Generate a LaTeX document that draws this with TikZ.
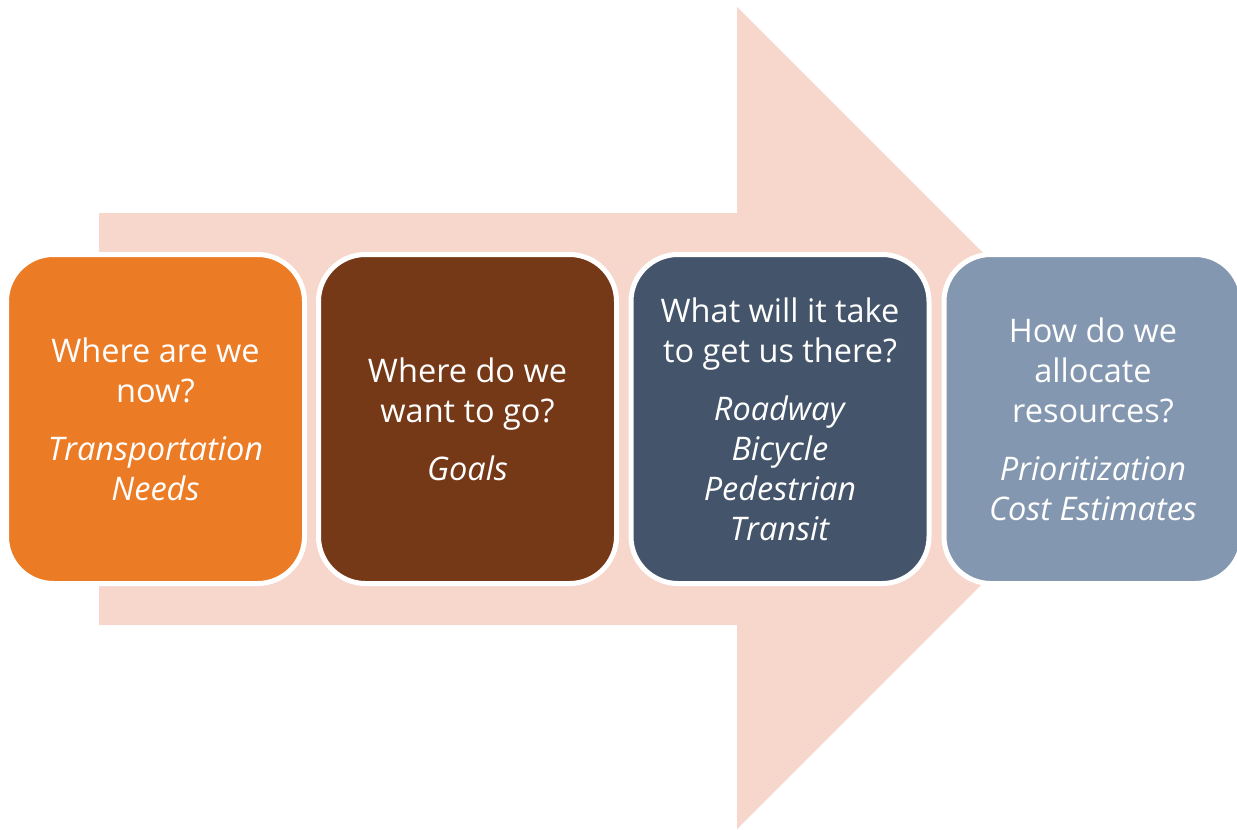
\documentclass[tikz,border=0pt]{standalone}
\usepackage{fontspec}
\setmainfont{Open Sans}
\definecolor{arrowfill}{HTML}{F7D6CC}
\definecolor{boxA}{HTML}{EC7B25}
\definecolor{boxB}{HTML}{763918}
\definecolor{boxC}{HTML}{44546A}
\definecolor{boxD}{HTML}{8497B0}
\tikzset{
  stepbox/.style={rectangle, rounded corners=47pt, draw=white, line width=5pt,
    minimum width=298pt, minimum height=329pt, inner sep=0pt, text=white,
    align=center, font=\fontsize{32.5}{40}\selectfont},
}
\begin{document}
\begin{tikzpicture}[x=1pt,y=-1pt]
\useasboundingbox (0,0) rectangle (1237,830);
\fill[arrowfill] (99,213) -- (737,213) -- (737,7) -- (1148,418) -- (737,829) -- (737,625) -- (99,625) -- cycle;
\node[stepbox, fill=boxA] (n1) at (155.5,419) {Where are we\\now?\\[18pt]\textit{Transportation}\\\textit{Needs}};
\node[stepbox, fill=boxB] (n2) at (467.5,419) {Where do we\\want to go?\\[18pt]\textit{Goals}};
\node[stepbox, fill=boxC] (n3) at (780,419) {What will it take\\to get us there?\\[18pt]\textit{Roadway}\\\textit{Bicycle}\\\textit{Pedestrian}\\\textit{Transit}};
\node[stepbox, fill=boxD] (n4) at (1093,419) {How do we\\allocate\\resources?\\[18pt]\textit{Prioritization}\\\textit{Cost Estimates}};
\end{tikzpicture}
\end{document}
